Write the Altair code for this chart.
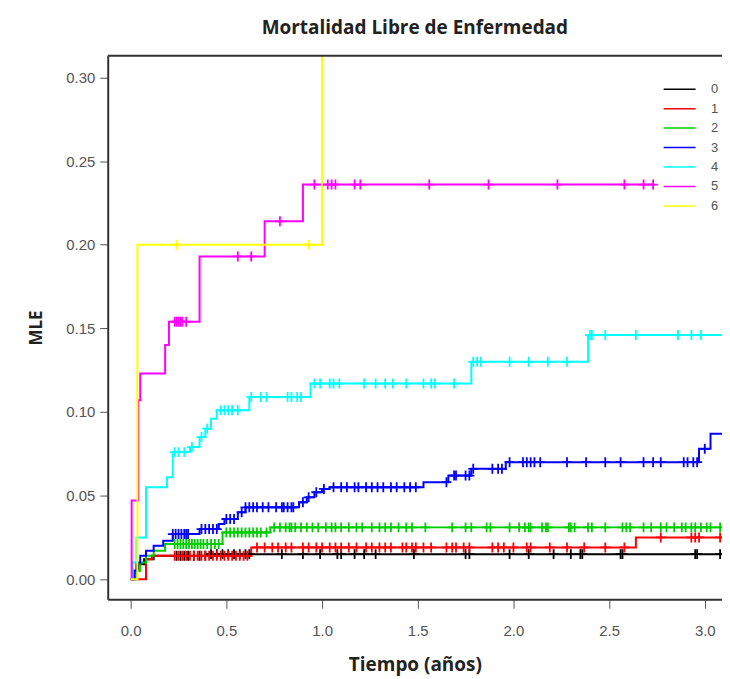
import altair as alt
import pandas as pd

groups = ["0", "1", "2", "3", "4", "5", "6"]
colors = ["#000000", "#FF0000", "#00CD00", "#0000FF", "#00FFFF", "#FF00FF", "#FFFF00"]

x_ticks = [0.0, 0.5, 1.0, 1.5, 2.0, 2.5, 3.0]
y_ticks = [0.0, 0.05, 0.10, 0.15, 0.20, 0.25, 0.30]

# group 0 (black)
t0 = [0, 0.02, 0.04, 0.07, 0.12, 0.40, 3.10]
v0 = [0, 0.005, 0.009, 0.012, 0.014, 0.015, 0.015]
c0 = [0.24, 0.26, 0.28, 0.30, 0.33, 0.36, 0.39, 0.42, 0.45, 0.48, 0.51, 0.54, 0.57, 0.60, 0.62,
      0.79, 0.90, 0.99, 1.08, 1.10, 1.17, 1.22, 1.28, 1.48, 1.75, 1.77, 1.98, 2.08, 2.21, 2.30,
      2.35, 2.36, 2.56, 2.57, 2.95, 2.96, 3.08]

# group 1 (red)
t1 = [0, 0.08, 0.11, 0.63, 2.64, 3.10]
v1 = [0, 0.012, 0.014, 0.019, 0.025, 0.025]
c1 = [0.23, 0.25, 0.27, 0.29, 0.31, 0.33, 0.35, 0.37, 0.39, 0.41, 0.43, 0.45, 0.47, 0.49, 0.51,
      0.53, 0.55, 0.57, 0.59, 0.61, 0.66, 0.70, 0.74, 0.77, 0.81, 0.84, 0.90, 0.93, 0.97, 1.00,
      1.04, 1.07, 1.10, 1.14, 1.18, 1.23, 1.26, 1.30, 1.33, 1.36, 1.42, 1.44, 1.47, 1.49, 1.53,
      1.57, 1.65, 1.68, 1.70, 1.74, 1.77, 1.89, 1.92, 1.95, 2.00, 2.07, 2.09, 2.19, 2.28, 2.37,
      2.48, 2.58, 2.77, 2.93, 2.95, 2.97, 3.08]

# group 2 (green)
t2 = [0, 0.03, 0.05, 0.08, 0.12, 0.18, 0.48, 0.73, 3.10]
v2 = [0, 0.005, 0.010, 0.014, 0.017, 0.021, 0.028, 0.031, 0.031]
c2 = [0.23, 0.245, 0.26, 0.275, 0.29, 0.305, 0.32, 0.335, 0.35, 0.365, 0.38, 0.40, 0.42, 0.44,
      0.46, 0.50, 0.52, 0.54, 0.56, 0.58, 0.60, 0.62, 0.64, 0.66, 0.68, 0.71, 0.75, 0.78, 0.81,
      0.83, 0.84, 0.86, 0.89, 0.92, 0.95, 0.98, 1.02, 1.05, 1.07, 1.10, 1.14, 1.18, 1.21, 1.26,
      1.30, 1.33, 1.36, 1.40, 1.44, 1.47, 1.54, 1.68, 1.75, 1.78, 1.86, 1.88, 1.98, 2.03, 2.06,
      2.08, 2.09, 2.15, 2.17, 2.18, 2.29, 2.30, 2.32, 2.39, 2.41, 2.48, 2.57, 2.59, 2.61, 2.68,
      2.72, 2.77, 2.80, 2.84, 2.88, 2.90, 2.93, 2.95, 2.98, 3.01, 3.03, 3.08]

# group 3 (blue)
t3 = [0, 0.02, 0.03, 0.05, 0.08, 0.12, 0.17, 0.22, 0.36, 0.46, 0.49, 0.56, 0.60, 0.88, 0.92,
      0.96, 1.00, 1.04, 1.53, 1.66, 1.78, 1.96, 2.97, 3.03, 3.10]
v3 = [0, 0.005, 0.010, 0.014, 0.017, 0.020, 0.023, 0.027, 0.030, 0.033, 0.036, 0.040, 0.043,
      0.046, 0.049, 0.052, 0.054, 0.055, 0.058, 0.062, 0.066, 0.070, 0.078, 0.087, 0.087]
c3 = [0.22, 0.235, 0.25, 0.265, 0.28, 0.29, 0.30, 0.37, 0.39, 0.41, 0.43, 0.45, 0.50, 0.52,
      0.54, 0.58, 0.60, 0.62, 0.64, 0.66, 0.69, 0.72, 0.76, 0.79, 0.80, 0.82, 0.84, 0.85, 0.90,
      0.93, 0.97, 1.01, 1.06, 1.10, 1.13, 1.17, 1.19, 1.23, 1.26, 1.29, 1.32, 1.36, 1.39, 1.43,
      1.46, 1.49, 1.65, 1.69, 1.70, 1.75, 1.77, 1.79, 1.89, 1.92, 1.94, 1.98, 2.05, 2.07, 2.09,
      2.11, 2.14, 2.28, 2.38, 2.48, 2.56, 2.68, 2.73, 2.77, 2.89, 2.91, 2.94, 2.96, 3.00]

# group 4 (cyan)
t4 = [0, 0.01, 0.03, 0.08, 0.19, 0.22, 0.31, 0.36, 0.39, 0.42, 0.45, 0.62, 0.94, 1.78, 2.39, 3.10]
v4 = [0, 0.010, 0.025, 0.055, 0.061, 0.076, 0.079, 0.085, 0.090, 0.096, 0.101, 0.109, 0.117,
      0.130, 0.146, 0.146]
c4 = [0.23, 0.25, 0.28, 0.32, 0.37, 0.40, 0.47, 0.49, 0.51, 0.53, 0.56, 0.63, 0.68, 0.71, 0.82,
      0.84, 0.87, 0.89, 0.96, 0.99, 1.04, 1.06, 1.09, 1.22, 1.28, 1.33, 1.37, 1.44, 1.53, 1.57,
      1.59, 1.69, 1.79, 1.81, 1.83, 1.98, 2.08, 2.18, 2.28, 2.40, 2.41, 2.48, 2.64, 2.86, 2.93,
      2.98]

# group 5 (magenta)
t5 = [0, 0.005, 0.04, 0.05, 0.18, 0.20, 0.36, 0.70, 0.90, 2.73]
v5 = [0, 0.047, 0.107, 0.123, 0.140, 0.154, 0.193, 0.214, 0.236, 0.236]
c5 = [0.23, 0.24, 0.25, 0.26, 0.27, 0.29, 0.56, 0.63, 0.78, 0.96, 1.03, 1.05, 1.07, 1.17, 1.20,
      1.56, 1.87, 2.23, 2.58, 2.68, 2.73]

# group 6 (yellow)
t6 = [0, 0.035, 1.0]
v6 = [0, 0.20, 0.40]
c6 = [0.24, 0.93]

times = [t0, t1, t2, t3, t4, t5, t6]
vals = [v0, v1, v2, v3, v4, v5, v6]
cens = [c0, c1, c2, c3, c4, c5, c6]

rows, crows = [], []
for g, ts, vs, cs in zip(groups, times, vals, cens):
    for i, (t, v) in enumerate(zip(ts, vs)):
        rows.append({"grupo": g, "t": t, "v": v, "o": i})
    for c in cs:
        idx = max(i for i, t in enumerate(ts) if t <= c)
        crows.append({"grupo": g, "t": c, "v": vs[idx]})

df = pd.DataFrame(rows)
dc = pd.DataFrame(crows)

W, H = 616, 545
xs = alt.Scale(domain=[-0.12, 3.09], nice=False, zero=False)
ys = alt.Scale(domain=[-0.012, 0.313], nice=False, zero=False)
cscale = alt.Scale(domain=groups, range=colors)

xaxis = alt.Axis(values=x_ticks, format=".1f", tickSize=9, labelPadding=15, grid=False,
                 titlePadding=17, titleFontSize=19)
yaxis = alt.Axis(values=y_ticks, format=".2f", tickSize=8, labelPadding=5, grid=False,
                 titlePadding=20, titleFontSize=17)

lines = alt.Chart(df).mark_line(interpolate="step-after", strokeWidth=2, clip=True).encode(
    x=alt.X("t:Q", scale=xs, axis=xaxis, title="Tiempo (años)"),
    y=alt.Y("v:Q", scale=ys, axis=yaxis, title="MLE"),
    color=alt.Color("grupo:N", scale=cscale, legend=alt.Legend(
        title=None, orient="none", legendX=567, legendY=27, symbolType="M-3.2,0H3.2",
        symbolSize=100, symbolStrokeWidth=1.5, labelOffset=25, rowPadding=5.5,
        labelFontSize=13, labelColor="#555555", labelFont="Liberation Sans", padding=0)),
    order="o:Q",
)

marks = alt.Chart(dc).mark_point(shape="M-1,0H1M0,-1V1", filled=False, size=100,
                                 strokeWidth=1.8, opacity=1, clip=True).encode(
    x=alt.X("t:Q", scale=xs),
    y=alt.Y("v:Q", scale=ys),
    stroke=alt.Stroke("grupo:N", scale=cscale, legend=None),
)

topline = alt.Chart(pd.DataFrame({"k": [0]})).mark_rule(color="#333333", strokeWidth=2).encode(
    y=alt.value(0))

chart = alt.layer(lines, marks, topline).properties(
    width=W, height=H,
    title=alt.TitleParams("Mortalidad Libre de Enfermedad", fontSize=19, font="Open Sans",
                          fontWeight="bold", color="#222222", anchor="middle", offset=17),
    padding={"left": 100, "top": 47, "right": 0, "bottom": 79},
    autosize=alt.AutoSizeParams(type="none"),
).configure_view(stroke=None).configure_axis(
    domainColor="#333333", domainWidth=2, tickColor="#555555", labelColor="#555555",
    labelFont="Liberation Sans", labelFontSize=15, titleFont="Open Sans", titleFontWeight="bold",
    titleColor="#222222",
)

chart.save("out.html", embed_options={"renderer": "svg", "actions": False})
